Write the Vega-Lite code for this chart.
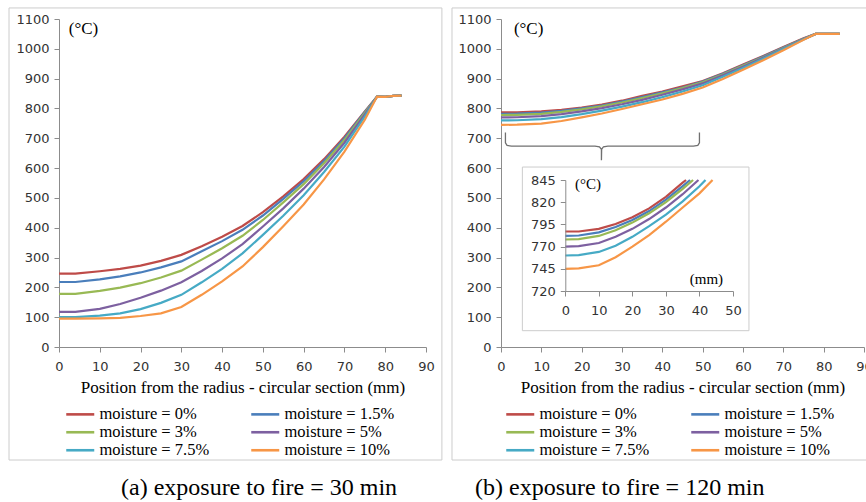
{
"$schema":"https://vega.github.io/schema/vega-lite/v6.json",
"padding":{"left":8,"top":7,"right":0,"bottom":0},
"background":"white",
"spacing":8,
"config":{
  "view":{"stroke":null},
  "axis":{"labelFont":"DejaVu Sans","labelFontSize":13,"labelColor":"#333333","domainColor":"#8c8c8c","tickColor":"#8c8c8c","grid":false,"tickSize":5,"labelFlush":false,"labelOverlap":false,"titleFont":"Liberation Serif","titleFontSize":17,"titleFontWeight":"normal","titleColor":"#000000"},
  "legend":{"labelFont":"Liberation Serif","labelFontSize":16.5,"labelColor":"#000000","symbolType":"M-2.8,0H2.8","symbolSize":100,"symbolStrokeWidth":2.6,"columns":2,"direction":"horizontal","columnPadding":36,"rowPadding":1,"labelOffset":11,"padding":0},
  "title":{"font":"Liberation Serif","fontSize":24,"fontWeight":"normal","color":"#000000"},
  "text":{"font":"Liberation Serif","fontSize":17,"color":"#000000"}
},
"datasets":{
"a":[
{"s":"moisture = 0%","x":0,"t":246},{"s":"moisture = 0%","x":4,"t":246},{"s":"moisture = 0%","x":10,"t":254},{"s":"moisture = 0%","x":15,"t":262},{"s":"moisture = 0%","x":20,"t":273},{"s":"moisture = 0%","x":25,"t":289},{"s":"moisture = 0%","x":30,"t":309},{"s":"moisture = 0%","x":35,"t":338},{"s":"moisture = 0%","x":40,"t":370},{"s":"moisture = 0%","x":45,"t":406},{"s":"moisture = 0%","x":50,"t":452},{"s":"moisture = 0%","x":55,"t":505},{"s":"moisture = 0%","x":60,"t":563},{"s":"moisture = 0%","x":65,"t":630},{"s":"moisture = 0%","x":70,"t":705},{"s":"moisture = 0%","x":75,"t":790},{"s":"moisture = 0%","x":78,"t":840},{"s":"moisture = 0%","x":80,"t":839},{"s":"moisture = 0%","x":82,"t":842},{"s":"moisture = 0%","x":84,"t":843},
{"s":"moisture = 1.5%","x":0,"t":218},{"s":"moisture = 1.5%","x":4,"t":218},{"s":"moisture = 1.5%","x":10,"t":227},{"s":"moisture = 1.5%","x":15,"t":237},{"s":"moisture = 1.5%","x":20,"t":250},{"s":"moisture = 1.5%","x":25,"t":267},{"s":"moisture = 1.5%","x":30,"t":287},{"s":"moisture = 1.5%","x":35,"t":321},{"s":"moisture = 1.5%","x":40,"t":355},{"s":"moisture = 1.5%","x":45,"t":393},{"s":"moisture = 1.5%","x":50,"t":441},{"s":"moisture = 1.5%","x":55,"t":497},{"s":"moisture = 1.5%","x":60,"t":556},{"s":"moisture = 1.5%","x":65,"t":624},{"s":"moisture = 1.5%","x":70,"t":700},{"s":"moisture = 1.5%","x":75,"t":788},{"s":"moisture = 1.5%","x":78,"t":840},{"s":"moisture = 1.5%","x":80,"t":839},{"s":"moisture = 1.5%","x":82,"t":842},{"s":"moisture = 1.5%","x":84,"t":843},
{"s":"moisture = 3%","x":0,"t":178},{"s":"moisture = 3%","x":4,"t":178},{"s":"moisture = 3%","x":10,"t":188},{"s":"moisture = 3%","x":15,"t":199},{"s":"moisture = 3%","x":20,"t":214},{"s":"moisture = 3%","x":25,"t":233},{"s":"moisture = 3%","x":30,"t":256},{"s":"moisture = 3%","x":35,"t":293},{"s":"moisture = 3%","x":40,"t":331},{"s":"moisture = 3%","x":45,"t":373},{"s":"moisture = 3%","x":50,"t":426},{"s":"moisture = 3%","x":55,"t":485},{"s":"moisture = 3%","x":60,"t":546},{"s":"moisture = 3%","x":65,"t":616},{"s":"moisture = 3%","x":70,"t":694},{"s":"moisture = 3%","x":75,"t":785},{"s":"moisture = 3%","x":78,"t":840},{"s":"moisture = 3%","x":80,"t":839},{"s":"moisture = 3%","x":82,"t":842},{"s":"moisture = 3%","x":84,"t":843},
{"s":"moisture = 5%","x":0,"t":118},{"s":"moisture = 5%","x":4,"t":118},{"s":"moisture = 5%","x":10,"t":128},{"s":"moisture = 5%","x":15,"t":144},{"s":"moisture = 5%","x":20,"t":165},{"s":"moisture = 5%","x":25,"t":189},{"s":"moisture = 5%","x":30,"t":217},{"s":"moisture = 5%","x":35,"t":255},{"s":"moisture = 5%","x":40,"t":297},{"s":"moisture = 5%","x":45,"t":345},{"s":"moisture = 5%","x":50,"t":404},{"s":"moisture = 5%","x":55,"t":465},{"s":"moisture = 5%","x":60,"t":531},{"s":"moisture = 5%","x":65,"t":604},{"s":"moisture = 5%","x":70,"t":685},{"s":"moisture = 5%","x":75,"t":780},{"s":"moisture = 5%","x":78,"t":840},{"s":"moisture = 5%","x":80,"t":839},{"s":"moisture = 5%","x":82,"t":842},{"s":"moisture = 5%","x":84,"t":843},
{"s":"moisture = 7.5%","x":0,"t":100},{"s":"moisture = 7.5%","x":4,"t":100},{"s":"moisture = 7.5%","x":10,"t":105},{"s":"moisture = 7.5%","x":15,"t":113},{"s":"moisture = 7.5%","x":20,"t":127},{"s":"moisture = 7.5%","x":25,"t":148},{"s":"moisture = 7.5%","x":30,"t":175},{"s":"moisture = 7.5%","x":35,"t":217},{"s":"moisture = 7.5%","x":40,"t":262},{"s":"moisture = 7.5%","x":45,"t":314},{"s":"moisture = 7.5%","x":50,"t":376},{"s":"moisture = 7.5%","x":55,"t":440},{"s":"moisture = 7.5%","x":60,"t":509},{"s":"moisture = 7.5%","x":65,"t":587},{"s":"moisture = 7.5%","x":70,"t":672},{"s":"moisture = 7.5%","x":75,"t":773},{"s":"moisture = 7.5%","x":78,"t":840},{"s":"moisture = 7.5%","x":80,"t":839},{"s":"moisture = 7.5%","x":82,"t":842},{"s":"moisture = 7.5%","x":84,"t":843},
{"s":"moisture = 10%","x":0,"t":95},{"s":"moisture = 10%","x":4,"t":95},{"s":"moisture = 10%","x":10,"t":96},{"s":"moisture = 10%","x":15,"t":98},{"s":"moisture = 10%","x":20,"t":104},{"s":"moisture = 10%","x":25,"t":113},{"s":"moisture = 10%","x":30,"t":134},{"s":"moisture = 10%","x":35,"t":175},{"s":"moisture = 10%","x":40,"t":220},{"s":"moisture = 10%","x":45,"t":270},{"s":"moisture = 10%","x":50,"t":335},{"s":"moisture = 10%","x":55,"t":405},{"s":"moisture = 10%","x":60,"t":478},{"s":"moisture = 10%","x":65,"t":562},{"s":"moisture = 10%","x":70,"t":655},{"s":"moisture = 10%","x":75,"t":762},{"s":"moisture = 10%","x":78,"t":840},{"s":"moisture = 10%","x":80,"t":839},{"s":"moisture = 10%","x":82,"t":842},{"s":"moisture = 10%","x":84,"t":843}
],
"b":[
{"s":"moisture = 0%","x":0,"t":787},{"s":"moisture = 0%","x":4,"t":787},{"s":"moisture = 0%","x":10,"t":790},{"s":"moisture = 0%","x":15,"t":795.5},{"s":"moisture = 0%","x":20,"t":803},{"s":"moisture = 0%","x":25,"t":813},{"s":"moisture = 0%","x":30,"t":826},{"s":"moisture = 0%","x":35,"t":842},{"s":"moisture = 0%","x":40,"t":857},{"s":"moisture = 0%","x":45,"t":874},{"s":"moisture = 0%","x":50,"t":892},{"s":"moisture = 0%","x":55,"t":918},{"s":"moisture = 0%","x":60,"t":947},{"s":"moisture = 0%","x":65,"t":976},{"s":"moisture = 0%","x":70,"t":1006},{"s":"moisture = 0%","x":75,"t":1035},{"s":"moisture = 0%","x":78,"t":1050},{"s":"moisture = 0%","x":80,"t":1050},{"s":"moisture = 0%","x":84,"t":1050},
{"s":"moisture = 1.5%","x":0,"t":782},{"s":"moisture = 1.5%","x":4,"t":782.5},{"s":"moisture = 1.5%","x":10,"t":786},{"s":"moisture = 1.5%","x":15,"t":792},{"s":"moisture = 1.5%","x":20,"t":800},{"s":"moisture = 1.5%","x":25,"t":810},{"s":"moisture = 1.5%","x":30,"t":823},{"s":"moisture = 1.5%","x":35,"t":838},{"s":"moisture = 1.5%","x":40,"t":854},{"s":"moisture = 1.5%","x":45,"t":870},{"s":"moisture = 1.5%","x":50,"t":890},{"s":"moisture = 1.5%","x":55,"t":916},{"s":"moisture = 1.5%","x":60,"t":945},{"s":"moisture = 1.5%","x":65,"t":974},{"s":"moisture = 1.5%","x":70,"t":1004},{"s":"moisture = 1.5%","x":75,"t":1034},{"s":"moisture = 1.5%","x":78,"t":1050},{"s":"moisture = 1.5%","x":80,"t":1050},{"s":"moisture = 1.5%","x":84,"t":1050},
{"s":"moisture = 3%","x":0,"t":778},{"s":"moisture = 3%","x":4,"t":778.5},{"s":"moisture = 3%","x":10,"t":782},{"s":"moisture = 3%","x":15,"t":788.5},{"s":"moisture = 3%","x":20,"t":797},{"s":"moisture = 3%","x":25,"t":807.5},{"s":"moisture = 3%","x":30,"t":820},{"s":"moisture = 3%","x":35,"t":835},{"s":"moisture = 3%","x":40,"t":851},{"s":"moisture = 3%","x":45,"t":868},{"s":"moisture = 3%","x":50,"t":888},{"s":"moisture = 3%","x":55,"t":914},{"s":"moisture = 3%","x":60,"t":943},{"s":"moisture = 3%","x":65,"t":972},{"s":"moisture = 3%","x":70,"t":1003},{"s":"moisture = 3%","x":75,"t":1033},{"s":"moisture = 3%","x":78,"t":1050},{"s":"moisture = 3%","x":80,"t":1050},{"s":"moisture = 3%","x":84,"t":1050},
{"s":"moisture = 5%","x":0,"t":770},{"s":"moisture = 5%","x":4,"t":770.5},{"s":"moisture = 5%","x":10,"t":774},{"s":"moisture = 5%","x":15,"t":781},{"s":"moisture = 5%","x":20,"t":790},{"s":"moisture = 5%","x":25,"t":801},{"s":"moisture = 5%","x":30,"t":814},{"s":"moisture = 5%","x":35,"t":829},{"s":"moisture = 5%","x":40,"t":846},{"s":"moisture = 5%","x":45,"t":864},{"s":"moisture = 5%","x":50,"t":884},{"s":"moisture = 5%","x":55,"t":911},{"s":"moisture = 5%","x":60,"t":940},{"s":"moisture = 5%","x":65,"t":970},{"s":"moisture = 5%","x":70,"t":1001},{"s":"moisture = 5%","x":75,"t":1032},{"s":"moisture = 5%","x":78,"t":1050},{"s":"moisture = 5%","x":80,"t":1050},{"s":"moisture = 5%","x":84,"t":1050},
{"s":"moisture = 7.5%","x":0,"t":760},{"s":"moisture = 7.5%","x":4,"t":760.5},{"s":"moisture = 7.5%","x":10,"t":764},{"s":"moisture = 7.5%","x":15,"t":771},{"s":"moisture = 7.5%","x":20,"t":781},{"s":"moisture = 7.5%","x":25,"t":793},{"s":"moisture = 7.5%","x":30,"t":806},{"s":"moisture = 7.5%","x":35,"t":821},{"s":"moisture = 7.5%","x":40,"t":838},{"s":"moisture = 7.5%","x":45,"t":857},{"s":"moisture = 7.5%","x":50,"t":878},{"s":"moisture = 7.5%","x":55,"t":906},{"s":"moisture = 7.5%","x":60,"t":936},{"s":"moisture = 7.5%","x":65,"t":967},{"s":"moisture = 7.5%","x":70,"t":999},{"s":"moisture = 7.5%","x":75,"t":1031},{"s":"moisture = 7.5%","x":78,"t":1050},{"s":"moisture = 7.5%","x":80,"t":1050},{"s":"moisture = 7.5%","x":84,"t":1050},
{"s":"moisture = 10%","x":0,"t":745},{"s":"moisture = 10%","x":4,"t":745.5},{"s":"moisture = 10%","x":10,"t":749},{"s":"moisture = 10%","x":15,"t":758},{"s":"moisture = 10%","x":20,"t":770},{"s":"moisture = 10%","x":25,"t":783},{"s":"moisture = 10%","x":30,"t":798},{"s":"moisture = 10%","x":35,"t":814},{"s":"moisture = 10%","x":40,"t":830},{"s":"moisture = 10%","x":45,"t":849},{"s":"moisture = 10%","x":50,"t":870},{"s":"moisture = 10%","x":55,"t":899},{"s":"moisture = 10%","x":60,"t":930},{"s":"moisture = 10%","x":65,"t":962},{"s":"moisture = 10%","x":70,"t":995},{"s":"moisture = 10%","x":75,"t":1030},{"s":"moisture = 10%","x":78,"t":1050},{"s":"moisture = 10%","x":80,"t":1050},{"s":"moisture = 10%","x":84,"t":1050}
],
"inset":[
{"s":"moisture = 0%","x":0,"t":787},{"s":"moisture = 0%","x":4,"t":787},{"s":"moisture = 0%","x":10,"t":790},{"s":"moisture = 0%","x":15,"t":795.5},{"s":"moisture = 0%","x":20,"t":803},{"s":"moisture = 0%","x":25,"t":813},{"s":"moisture = 0%","x":30,"t":826},{"s":"moisture = 0%","x":35,"t":842},{"s":"moisture = 0%","x":36,"t":845},
{"s":"moisture = 1.5%","x":0,"t":782},{"s":"moisture = 1.5%","x":4,"t":782.5},{"s":"moisture = 1.5%","x":10,"t":786},{"s":"moisture = 1.5%","x":15,"t":792},{"s":"moisture = 1.5%","x":20,"t":800},{"s":"moisture = 1.5%","x":25,"t":810},{"s":"moisture = 1.5%","x":30,"t":823},{"s":"moisture = 1.5%","x":35,"t":838},{"s":"moisture = 1.5%","x":37.2,"t":845},
{"s":"moisture = 3%","x":0,"t":778},{"s":"moisture = 3%","x":4,"t":778.5},{"s":"moisture = 3%","x":10,"t":782},{"s":"moisture = 3%","x":15,"t":788.5},{"s":"moisture = 3%","x":20,"t":797},{"s":"moisture = 3%","x":25,"t":807.5},{"s":"moisture = 3%","x":30,"t":820},{"s":"moisture = 3%","x":35,"t":835},{"s":"moisture = 3%","x":38.1,"t":845},
{"s":"moisture = 5%","x":0,"t":770},{"s":"moisture = 5%","x":4,"t":770.5},{"s":"moisture = 5%","x":10,"t":774},{"s":"moisture = 5%","x":15,"t":781},{"s":"moisture = 5%","x":20,"t":790},{"s":"moisture = 5%","x":25,"t":801},{"s":"moisture = 5%","x":30,"t":814},{"s":"moisture = 5%","x":35,"t":829},{"s":"moisture = 5%","x":39.7,"t":845},
{"s":"moisture = 7.5%","x":0,"t":760},{"s":"moisture = 7.5%","x":4,"t":760.5},{"s":"moisture = 7.5%","x":10,"t":764},{"s":"moisture = 7.5%","x":15,"t":771},{"s":"moisture = 7.5%","x":20,"t":781},{"s":"moisture = 7.5%","x":25,"t":793},{"s":"moisture = 7.5%","x":30,"t":806},{"s":"moisture = 7.5%","x":35,"t":821},{"s":"moisture = 7.5%","x":40,"t":838},{"s":"moisture = 7.5%","x":41.8,"t":845},
{"s":"moisture = 10%","x":0,"t":745},{"s":"moisture = 10%","x":4,"t":745.5},{"s":"moisture = 10%","x":10,"t":749},{"s":"moisture = 10%","x":15,"t":758},{"s":"moisture = 10%","x":20,"t":770},{"s":"moisture = 10%","x":25,"t":783},{"s":"moisture = 10%","x":30,"t":798},{"s":"moisture = 10%","x":35,"t":814},{"s":"moisture = 10%","x":40,"t":830},{"s":"moisture = 10%","x":43.9,"t":845}
],
"brace":[
{"o":1,"x":1.1,"y":719},{"o":2,"x":1.1,"y":685},{"o":3,"x":1.5,"y":676},{"o":4,"x":2.6,"y":674},{"o":5,"x":23.3,"y":674},{"o":6,"x":24.4,"y":671.6},{"o":7,"x":24.9,"y":663},{"o":8,"x":24.9,"y":626},{"o":9,"x":24.95,"y":663},{"o":10,"x":25.4,"y":671.6},{"o":11,"x":26.5,"y":674},{"o":12,"x":47.7,"y":674},{"o":13,"x":48.8,"y":676},{"o":14,"x":49.2,"y":685},{"o":15,"x":49.2,"y":719}
]
},
"hconcat":[
{
 "width":367,"height":328,
 "title":{"text":"(a) exposure to fire = 30 min","orient":"bottom","anchor":"start","frame":"group","dx":62,"offset":15},
 "layer":[
  {"data":{"name":"a"},"mark":{"type":"line","strokeWidth":2.2},
   "encoding":{
    "x":{"field":"x","type":"quantitative","scale":{"domain":[0,90],"nice":false},"axis":{"orient":"bottom","values":[0,10,20,30,40,50,60,70,80,90],"format":"d","labelOverlap":false,"title":"Position from the radius - circular section (mm)","labelPadding":8,"titlePadding":6}},
    "y":{"field":"t","type":"quantitative","scale":{"domain":[0,1100],"nice":false},"axis":{"orient":"left","values":[0,100,200,300,400,500,600,700,800,900,1000,1100],"format":"d","labelOverlap":false,"title":null,"labelPadding":5}},
    "color":{"field":"s","type":"nominal","title":null,"scale":{"domain":["moisture = 0%","moisture = 1.5%","moisture = 3%","moisture = 5%","moisture = 7.5%","moisture = 10%"],"range":["#BE4B48","#4A7EBB","#98B954","#7D60A0","#46AAC5","#F79646"]},"legend":{"orient":"none","legendX":13,"legendY":387}}
   }},
  {"data":{"values":[{}]},"mark":{"type":"rect","fill":"transparent","stroke":"#cccccc","strokeWidth":1},
   "encoding":{"x":{"datum":-12.26,"type":"quantitative","scale":{"domain":[0,90],"nice":false},"axis":{"orient":"bottom","values":[0,10,20,30,40,50,60,70,80,90],"format":"d","labelOverlap":false,"title":"Position from the radius - circular section (mm)","labelPadding":8,"titlePadding":6}},"x2":{"datum":93.9},
               "y":{"datum":1137,"type":"quantitative","scale":{"domain":[0,1100],"nice":false},"axis":{"orient":"left","values":[0,100,200,300,400,500,600,700,800,900,1000,1100],"format":"d","labelOverlap":false,"title":null,"labelPadding":5}},"y2":{"datum":-379}}},
  {"data":{"values":[{}]},"mark":{"type":"text","align":"left","baseline":"middle"},
   "encoding":{"x":{"datum":2.4,"type":"quantitative","scale":{"domain":[0,90],"nice":false},"axis":{"orient":"bottom","values":[0,10,20,30,40,50,60,70,80,90],"format":"d","labelOverlap":false,"title":"Position from the radius - circular section (mm)","labelPadding":8,"titlePadding":6}},
               "y":{"datum":1066,"type":"quantitative","scale":{"domain":[0,1100],"nice":false},"axis":{"orient":"left","values":[0,100,200,300,400,500,600,700,800,900,1000,1100],"format":"d","labelOverlap":false,"title":null,"labelPadding":5}},"text":{"value":"(°C)"}}}
 ]
},
{
 "width":363,"height":328,
 "title":{"text":"(b) exposure to fire = 120 min","orient":"bottom","anchor":"start","frame":"group","dx":-26,"offset":15},
 "layer":[
  {"layer":[
   {"data":{"name":"b"},"mark":{"type":"line","strokeWidth":2.2},
    "encoding":{
     "x":{"field":"x","type":"quantitative","scale":{"domain":[0,90],"nice":false},"axis":{"orient":"bottom","values":[0,10,20,30,40,50,60,70,80,90],"format":"d","labelOverlap":false,"title":"Position from the radius - circular section (mm)","labelPadding":8,"titlePadding":6}},
     "y":{"field":"t","type":"quantitative","scale":{"domain":[0,1100],"nice":false},"axis":{"orient":"left","values":[0,100,200,300,400,500,600,700,800,900,1000,1100],"format":"d","labelOverlap":false,"title":null,"labelPadding":5}},
     "color":{"field":"s","type":"nominal","title":null,"scale":{"domain":["moisture = 0%","moisture = 1.5%","moisture = 3%","moisture = 5%","moisture = 7.5%","moisture = 10%"],"range":["#BE4B48","#4A7EBB","#98B954","#7D60A0","#46AAC5","#F79646"]},"legend":{"orient":"none","legendX":11,"legendY":387}}
    }},
   {"data":{"values":[{}]},"mark":{"type":"rule","stroke":"#cccccc","strokeWidth":1},
    "encoding":{"x":{"datum":-12.15,"type":"quantitative","scale":{"domain":[0,90],"nice":false},"axis":{"orient":"bottom","values":[0,10,20,30,40,50,60,70,80,90],"format":"d","labelOverlap":false,"title":"Position from the radius - circular section (mm)","labelPadding":8,"titlePadding":6}},"x2":{"datum":91.2},"y":{"datum":1137,"type":"quantitative","scale":{"domain":[0,1100],"nice":false},"axis":{"orient":"left","values":[0,100,200,300,400,500,600,700,800,900,1000,1100],"format":"d","labelOverlap":false,"title":null,"labelPadding":5}}}},
   {"data":{"values":[{}]},"mark":{"type":"rule","stroke":"#cccccc","strokeWidth":1},
    "encoding":{"x":{"datum":-12.15,"type":"quantitative","scale":{"domain":[0,90],"nice":false},"axis":{"orient":"bottom","values":[0,10,20,30,40,50,60,70,80,90],"format":"d","labelOverlap":false,"title":"Position from the radius - circular section (mm)","labelPadding":8,"titlePadding":6}},"x2":{"datum":91.2},"y":{"datum":-379,"type":"quantitative","scale":{"domain":[0,1100],"nice":false},"axis":{"orient":"left","values":[0,100,200,300,400,500,600,700,800,900,1000,1100],"format":"d","labelOverlap":false,"title":null,"labelPadding":5}}}},
   {"data":{"values":[{}]},"mark":{"type":"rule","stroke":"#cccccc","strokeWidth":1},
    "encoding":{"x":{"datum":-12.15,"type":"quantitative","scale":{"domain":[0,90],"nice":false},"axis":{"orient":"bottom","values":[0,10,20,30,40,50,60,70,80,90],"format":"d","labelOverlap":false,"title":"Position from the radius - circular section (mm)","labelPadding":8,"titlePadding":6}},"y":{"datum":1137,"type":"quantitative","scale":{"domain":[0,1100],"nice":false},"axis":{"orient":"left","values":[0,100,200,300,400,500,600,700,800,900,1000,1100],"format":"d","labelOverlap":false,"title":null,"labelPadding":5}},"y2":{"datum":-379}}},
   {"data":{"name":"brace"},"mark":{"type":"line","stroke":"#707070","strokeWidth":1.3},
    "encoding":{"x":{"field":"x","type":"quantitative","scale":{"domain":[0,90],"nice":false},"axis":{"orient":"bottom","values":[0,10,20,30,40,50,60,70,80,90],"format":"d","labelOverlap":false,"title":"Position from the radius - circular section (mm)","labelPadding":8,"titlePadding":6}},"y":{"field":"y","type":"quantitative","scale":{"domain":[0,1100],"nice":false},"axis":{"orient":"left","values":[0,100,200,300,400,500,600,700,800,900,1000,1100],"format":"d","labelOverlap":false,"title":null,"labelPadding":5}},"order":{"field":"o","type":"quantitative"}}},
   {"data":{"values":[{}]},"mark":{"type":"text","align":"left","baseline":"middle"},
    "encoding":{"x":{"datum":3.2,"type":"quantitative","scale":{"domain":[0,90],"nice":false},"axis":{"orient":"bottom","values":[0,10,20,30,40,50,60,70,80,90],"format":"d","labelOverlap":false,"title":"Position from the radius - circular section (mm)","labelPadding":8,"titlePadding":6}},"y":{"datum":1066,"type":"quantitative","scale":{"domain":[0,1100],"nice":false},"axis":{"orient":"left","values":[0,100,200,300,400,500,600,700,800,900,1000,1100],"format":"d","labelOverlap":false,"title":null,"labelPadding":5}},"text":{"value":"(°C)"}}}
  ]},
  {"layer":[
   {"data":{"values":[{}]},"mark":{"type":"rect","fill":"#ffffff","stroke":"#cccccc","strokeWidth":1},
    "encoding":{"x":{"datum":-12.8,"type":"quantitative","scale":{"domain":[0,50],"range":[64.3,232],"nice":false},"axis":{"orient":"bottom","offset":-56,"zindex":1,"values":[0,10,20,30,40,50],"format":"d","labelOverlap":false,"title":null,"labelPadding":8}},"x2":{"datum":54.76},
                "y":{"datum":859.6,"type":"quantitative","scale":{"domain":[720,845],"range":[272,161],"nice":false,"zero":false},"axis":{"orient":"left","offset":-64.3,"zindex":1,"values":[720,745,770,795,820,845],"format":"d","labelOverlap":false,"title":null,"labelPadding":5}},"y2":{"datum":675.3}}},
   {"data":{"name":"inset"},"mark":{"type":"line","strokeWidth":2.2},
    "encoding":{
     "x":{"field":"x","type":"quantitative","scale":{"domain":[0,50],"range":[64.3,232],"nice":false},"axis":{"orient":"bottom","offset":-56,"zindex":1,"values":[0,10,20,30,40,50],"format":"d","labelOverlap":false,"title":null,"labelPadding":8}},
     "y":{"field":"t","type":"quantitative","scale":{"domain":[720,845],"range":[272,161],"nice":false,"zero":false},"axis":{"orient":"left","offset":-64.3,"zindex":1,"values":[720,745,770,795,820,845],"format":"d","labelOverlap":false,"title":null,"labelPadding":5}},
     "color":{"field":"s","type":"nominal","title":null,"scale":{"domain":["moisture = 0%","moisture = 1.5%","moisture = 3%","moisture = 5%","moisture = 7.5%","moisture = 10%"],"range":["#BE4B48","#4A7EBB","#98B954","#7D60A0","#46AAC5","#F79646"]},"legend":{"orient":"none","legendX":11,"legendY":387}}
    }},
   {"data":{"values":[{}]},"mark":{"type":"text","align":"left","baseline":"middle","fontSize":15},
    "encoding":{"x":{"datum":2.9,"type":"quantitative","scale":{"domain":[0,50],"range":[64.3,232],"nice":false},"axis":{"orient":"bottom","offset":-56,"zindex":1,"values":[0,10,20,30,40,50],"format":"d","labelOverlap":false,"title":null,"labelPadding":8}},"y":{"datum":840.5,"type":"quantitative","scale":{"domain":[720,845],"range":[272,161],"nice":false,"zero":false},"axis":{"orient":"left","offset":-64.3,"zindex":1,"values":[720,745,770,795,820,845],"format":"d","labelOverlap":false,"title":null,"labelPadding":5}},"text":{"value":"(°C)"}}},
   {"data":{"values":[{}]},"mark":{"type":"text","align":"left","baseline":"middle","fontSize":15},
    "encoding":{"x":{"datum":37.1,"type":"quantitative","scale":{"domain":[0,50],"range":[64.3,232],"nice":false},"axis":{"orient":"bottom","offset":-56,"zindex":1,"values":[0,10,20,30,40,50],"format":"d","labelOverlap":false,"title":null,"labelPadding":8}},"y":{"datum":733.9,"type":"quantitative","scale":{"domain":[720,845],"range":[272,161],"nice":false,"zero":false},"axis":{"orient":"left","offset":-64.3,"zindex":1,"values":[720,745,770,795,820,845],"format":"d","labelOverlap":false,"title":null,"labelPadding":5}},"text":{"value":"(mm)"}}}
  ]}
 ],
 "resolve":{"scale":{"x":"independent","y":"independent"}}
}
],
"resolve":{"legend":{"color":"independent"}}
}
